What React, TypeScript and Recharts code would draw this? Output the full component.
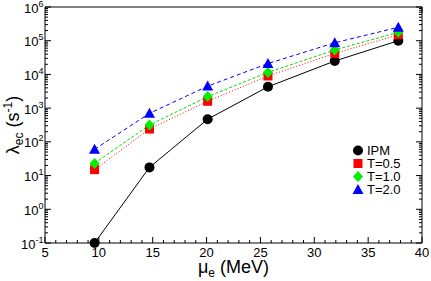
import React from 'react';
import { LineChart, Line, XAxis, YAxis, Legend } from 'recharts';

// electron chemical potential (MeV) and capture rates (s^-1)
const muE = [9.6, 14.7, 20.1, 25.7, 31.9, 37.8];
const ipm = [0.1, 17.5, 470, 4300, 25000, 100000];
const t05 = [15, 240, 1600, 9000, 42000, 150000];
const t10 = [23, 316, 2200, 11500, 53000, 178000];
const t20 = [60, 700, 4500, 21000, 87000, 250000];

const xMajor = [5, 10, 15, 20, 25, 30, 35, 40];
const xAll = [5, 6, 7, 8, 9, 10, 11, 12, 13, 14, 15, 16, 17, 18, 19, 20, 21, 22, 23, 24, 25, 26, 27, 28, 29, 30, 31, 32, 33, 34, 35, 36, 37, 38, 39, 40];
const yMajor = [0.1, 1, 10, 100, 1e3, 1e4, 1e5, 1e6];
const yAll: number[] = [];
yMajor.forEach((d, i) => {
  yAll.push(d);
  if (i < yMajor.length - 1) for (let k = 2; k <= 9; k++) yAll.push(d * k);
});

const rows = muE.map((mu, i) => ({ mu, ipm: ipm[i], t05: t05[i], t10: t10[i], t20: t20[i] }));

const series = [
  { key: 'ipm', name: 'IPM', color: '#000000', line: '#000000', shape: 'circle', dash: undefined },
  { key: 't05', name: 'T=0.5', color: '#ff0000', line: '#ff0000', shape: 'square', dash: '1 2' },
  { key: 't10', name: 'T=1.0', color: '#00ee00', line: '#00dd00', shape: 'diamond', dash: '3 2' },
  { key: 't20', name: 'T=2.0', color: '#0000ff', line: '#0000ff', shape: 'triangle', dash: '4 3' },
];

const FONT = '"Liberation Sans", Arial, Helvetica, sans-serif';
const W = 431;
const H = 281;
const MAJ = 6;
const MIN = 3;

const isMajorX = (v: number) => xMajor.includes(v);
const isMajorY = (v: number) => yMajor.some((m) => Math.abs(m - v) / m < 1e-9);

const Marker = ({ cx, cy, shape, color }: any) => {
  if (cx == null || cy == null) return null;
  switch (shape) {
    case 'circle':
      return <circle cx={cx} cy={cy} r={5} fill={color} />;
    case 'square':
      return <rect x={cx - 4.5} y={cy - 4.5} width={9} height={9} fill={color} />;
    case 'diamond':
      return <polygon points={`${cx},${cy - 5.5} ${cx + 5},${cy} ${cx},${cy + 5.5} ${cx - 5},${cy}`} fill={color} />;
    default:
      return <polygon points={`${cx},${cy - 5.5} ${cx + 5.5},${cy + 4.5} ${cx - 5.5},${cy + 4.5}`} fill={color} />;
  }
};

// bottom axis: inward tick + label on majors
const BottomTick = ({ x, y, payload }: any) => {
  const major = isMajorX(payload.value);
  return (
    <g>
      <line x1={x} x2={x} y1={y} y2={y - (major ? MAJ : MIN)} stroke="#000" />
      {major && (
        <text x={x} y={y + 13.5} textAnchor="middle" fontSize={13} fill="#000" fontFamily={FONT}>
          {payload.value}
        </text>
      )}
    </g>
  );
};

const TopTick = ({ x, y, payload }: any) => {
  const major = isMajorX(payload.value);
  return <line x1={x} x2={x} y1={y} y2={y + (major ? MAJ : MIN)} stroke="#000" />;
};

const LeftTick = ({ x, y, payload }: any) => {
  const major = isMajorY(payload.value);
  const exp = Math.round(Math.log10(payload.value));
  return (
    <g>
      <line x1={x} x2={x + (major ? MAJ : MIN)} y1={y} y2={y} stroke="#000" />
      {major && (
        <text x={x - 1.5} y={y} textAnchor="end" fontSize={13} fill="#000" fontFamily={FONT}>
          <tspan dy={5.5}>10</tspan>
          <tspan dy={-6} fontSize={9}>{exp}</tspan>
        </text>
      )}
    </g>
  );
};

const RightTick = ({ x, y, payload }: any) => {
  const major = isMajorY(payload.value);
  return <line x1={x} x2={x - (major ? MAJ : MIN)} y1={y} y2={y} stroke="#000" />;
};

const XTitle = ({ viewBox }: any) => {
  const vb = viewBox || { x: 45, y: 243, width: 377, height: 38 };
  return (
    <text x={vb.x + vb.width / 2} y={vb.y + 30} textAnchor="middle" fontSize={18} fill="#000" fontFamily={FONT}>
      <tspan>μ</tspan>
      <tspan fontSize={12} dy={4}>e</tspan>
      <tspan dy={-4}>{'\u00a0(MeV)'}</tspan>
    </text>
  );
};

const YTitle = ({ viewBox }: any) => {
  const vb = viewBox || { x: 0, y: 7, width: 45, height: 236 };
  const cx = 19;
  const cy = vb.y + vb.height / 2;
  return (
    <text x={cx} y={cy} transform={`rotate(-90 ${cx} ${cy})`} textAnchor="middle" fontSize={18} fill="#000" fontFamily={FONT}>
      <tspan>λ</tspan>
      <tspan fontSize={12} dy={4}>ec</tspan>
      <tspan dy={-4}>{'\u00a0(s'}</tspan>
      <tspan fontSize={12} dy={-7}>-1</tspan>
      <tspan dy={7}>)</tspan>
    </text>
  );
};

const LegendBox = () => (
  <div style={{ fontFamily: FONT, fontSize: 13, color: '#000' }}>
    {series.map((s) => (
      <div key={s.key} style={{ display: 'flex', alignItems: 'center', height: 13.1 }}>
        <svg width={16} height={13} style={{ display: 'block' }}>
          <Marker cx={8} cy={6.5} shape={s.shape} color={s.color} />
        </svg>
        <span style={{ marginLeft: 1, lineHeight: '13px' }}>{s.name}</span>
      </div>
    ))}
  </div>
);

const axisStroke = { stroke: '#000', strokeWidth: 1 };

export default function App() {
  return (
    <div style={{ position: 'absolute', left: 0, top: 0, width: W, height: H, background: '#fff', fontFamily: FONT }}>
      <LineChart width={W} height={H} data={rows} margin={{ top: 7, right: 9, bottom: 0, left: 0 }}>
        <XAxis
          xAxisId="main"
          dataKey="mu"
          type="number"
          domain={[5, 40]}
          ticks={xAll}
          interval={0}
          height={38}
          tickSize={0}
          tickMargin={0}
          tickLine={false}
          axisLine={axisStroke}
          tick={<BottomTick />}
          label={<XTitle />}
        />
        <XAxis
          xAxisId="top"
          orientation="top"
          type="number"
          domain={[5, 40]}
          allowDataOverflow
          ticks={xAll}
          interval={0}
          mirror
          height={1}
          tickSize={0}
          tickMargin={0}
          tickLine={false}
          axisLine={axisStroke}
          tick={<TopTick />}
        />
        <YAxis
          yAxisId="main"
          scale="log"
          type="number"
          domain={[0.1, 1e6]}
          ticks={yAll}
          interval={0}
          width={45}
          tickSize={0}
          tickMargin={0}
          tickLine={false}
          axisLine={axisStroke}
          tick={<LeftTick />}
          label={<YTitle />}
        />
        <YAxis
          yAxisId="right"
          orientation="right"
          scale="log"
          type="number"
          domain={[0.1, 1e6]}
          allowDataOverflow
          ticks={yAll}
          interval={0}
          mirror
          width={1}
          tickSize={0}
          tickMargin={0}
          tickLine={false}
          axisLine={axisStroke}
          tick={<RightTick />}
        />

        {series.map((s) => (
          <Line
            key={s.key}
            xAxisId="main"
            yAxisId="main"
            type="linear"
            dataKey={s.key}
            name={s.name}
            stroke={s.line}
            strokeWidth={1}
            strokeDasharray={s.dash}
            isAnimationActive={false}
            dot={(p: any) => <Marker key={`${s.key}-${p.index}`} cx={p.cx} cy={p.cy} shape={s.shape} color={s.color} />}
            activeDot={false}
          />
        ))}

        <Legend
          layout="vertical"
          align="center"
          verticalAlign="middle"
          content={<LegendBox />}
          wrapperStyle={{ left: 350, top: 144, width: 80, height: 'auto' }}
        />
      </LineChart>
    </div>
  );
}
